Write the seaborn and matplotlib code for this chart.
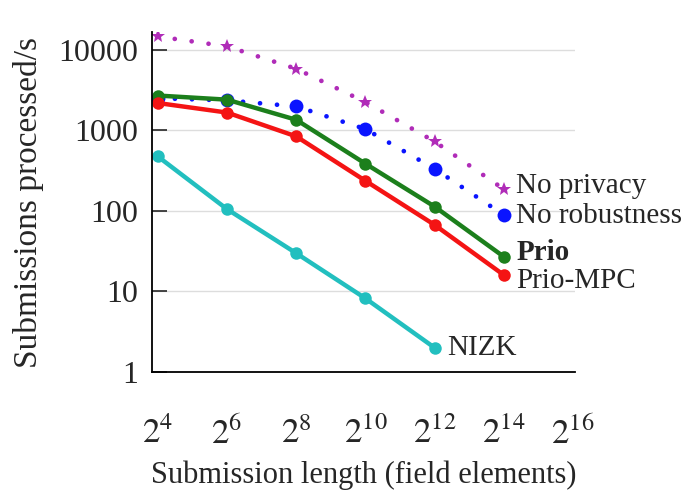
import numpy as np
import pandas as pd
import matplotlib
matplotlib.use("Agg")
import matplotlib.pyplot as plt
import seaborn as sns

### values (submissions processed per second)
lengths = [2**4, 2**6, 2**8, 2**10, 2**12, 2**14]
no_privacy = [14600, 11000, 5800, 2240, 726, 186]
no_robustness = [2500, 2350, 1980, 1035, 333, 89]
prio = [2700, 2400, 1350, 385, 113, 27]
prio_mpc = [2180, 1660, 840, 236, 67, 16]
nizk_lengths = [2**4, 2**6, 2**8, 2**10, 2**12]
nizk = [473, 105, 29.8, 8.2, 2.0]

x_ticks = [2**k for k in range(4, 17, 2)]
x_ticklabels = ["$2^{%d}$" % k for k in range(4, 17, 2)]
y_ticks = [1, 10, 100, 1000, 10000]
y_ticklabels = ["1", "10", "100", "1000", "10000"]

sns.set_style("white")
plt.rcParams['font.family'] = ['Liberation Serif', 'DejaVu Serif']
plt.rcParams['mathtext.fontset'] = 'stix'

fig = plt.figure(figsize=(6.92, 4.90), dpi=100)
ax = fig.add_axes([152/692, 1 - 372/490, (575 - 152)/692, (372 - 32)/490])

### dotted series
sns.lineplot(x=lengths, y=no_privacy, ax=ax, color='#b02cb8', linestyle=(0, (0.01, 3.6)),
             linewidth=3.4, marker='*', markersize=10, markeredgewidth=0)
sns.lineplot(x=lengths, y=no_robustness, ax=ax, color='#0a14ff', linestyle=(0, (0.01, 3.6)),
             linewidth=3.4, marker='o', markersize=10, markeredgewidth=0)
for line in ax.get_lines():
    line.set_dash_capstyle('round')
### solid series
sns.lineplot(x=lengths, y=prio, ax=ax, color='#1c7f1c', linewidth=3.2,
             marker='o', markersize=9, markeredgewidth=0)
sns.lineplot(x=lengths, y=prio_mpc, ax=ax, color='#f41414', linewidth=3.2,
             marker='o', markersize=9, markeredgewidth=0)
sns.lineplot(x=nizk_lengths, y=nizk, ax=ax, color='#22bfbf', linewidth=3.2,
             marker='o', markersize=9, markeredgewidth=0)

ax.set_xscale('log', base=2)
ax.set_yscale('log')
ax.set_xlim(2**3.83, 2**16.06)
ax.set_ylim(1, 10**4.22)

ax.set_xticks(x_ticks)
ax.set_xticklabels(x_ticklabels)
ax.set_yticks(y_ticks)
ax.set_yticklabels(y_ticklabels)
ax.minorticks_off()
ax.tick_params(axis='x', length=0, pad=33, labelsize=25)
ax.tick_params(axis='y', direction='in', length=11, width=1.2, pad=10, labelsize=23, left=True)

ax.grid(axis='y', color='#dddddd', linewidth=1)
for s in ['top', 'right']:
    ax.spines[s].set_visible(False)
for s in ['left', 'bottom']:
    ax.spines[s].set_color('black')
    ax.spines[s].set_linewidth(1.3)

ax.set_ylabel('Submissions processed/s', fontsize=24, labelpad=10)
ax.set_xlabel('Submission length (field elements)', fontsize=22, labelpad=6)

### end-of-line labels
lab = dict(textcoords='offset points', va='center', ha='left', fontsize=21, annotation_clip=False)
ax.annotate('No privacy', (lengths[-1], no_privacy[-1]), xytext=(9, 2), **lab)
ax.annotate('No robustness', (lengths[-1], no_robustness[-1]), xytext=(9, -1), **lab)
ax.annotate('Prio', (lengths[-1], prio[-1]), xytext=(9, 3), fontweight='bold', **lab)
ax.annotate('Prio-MPC', (lengths[-1], prio_mpc[-1]), xytext=(9, -4), **lab)
ax.annotate('NIZK', (nizk_lengths[-1], nizk[-1]), xytext=(9, 0), **lab)

fig.savefig('out.png', dpi=100)
